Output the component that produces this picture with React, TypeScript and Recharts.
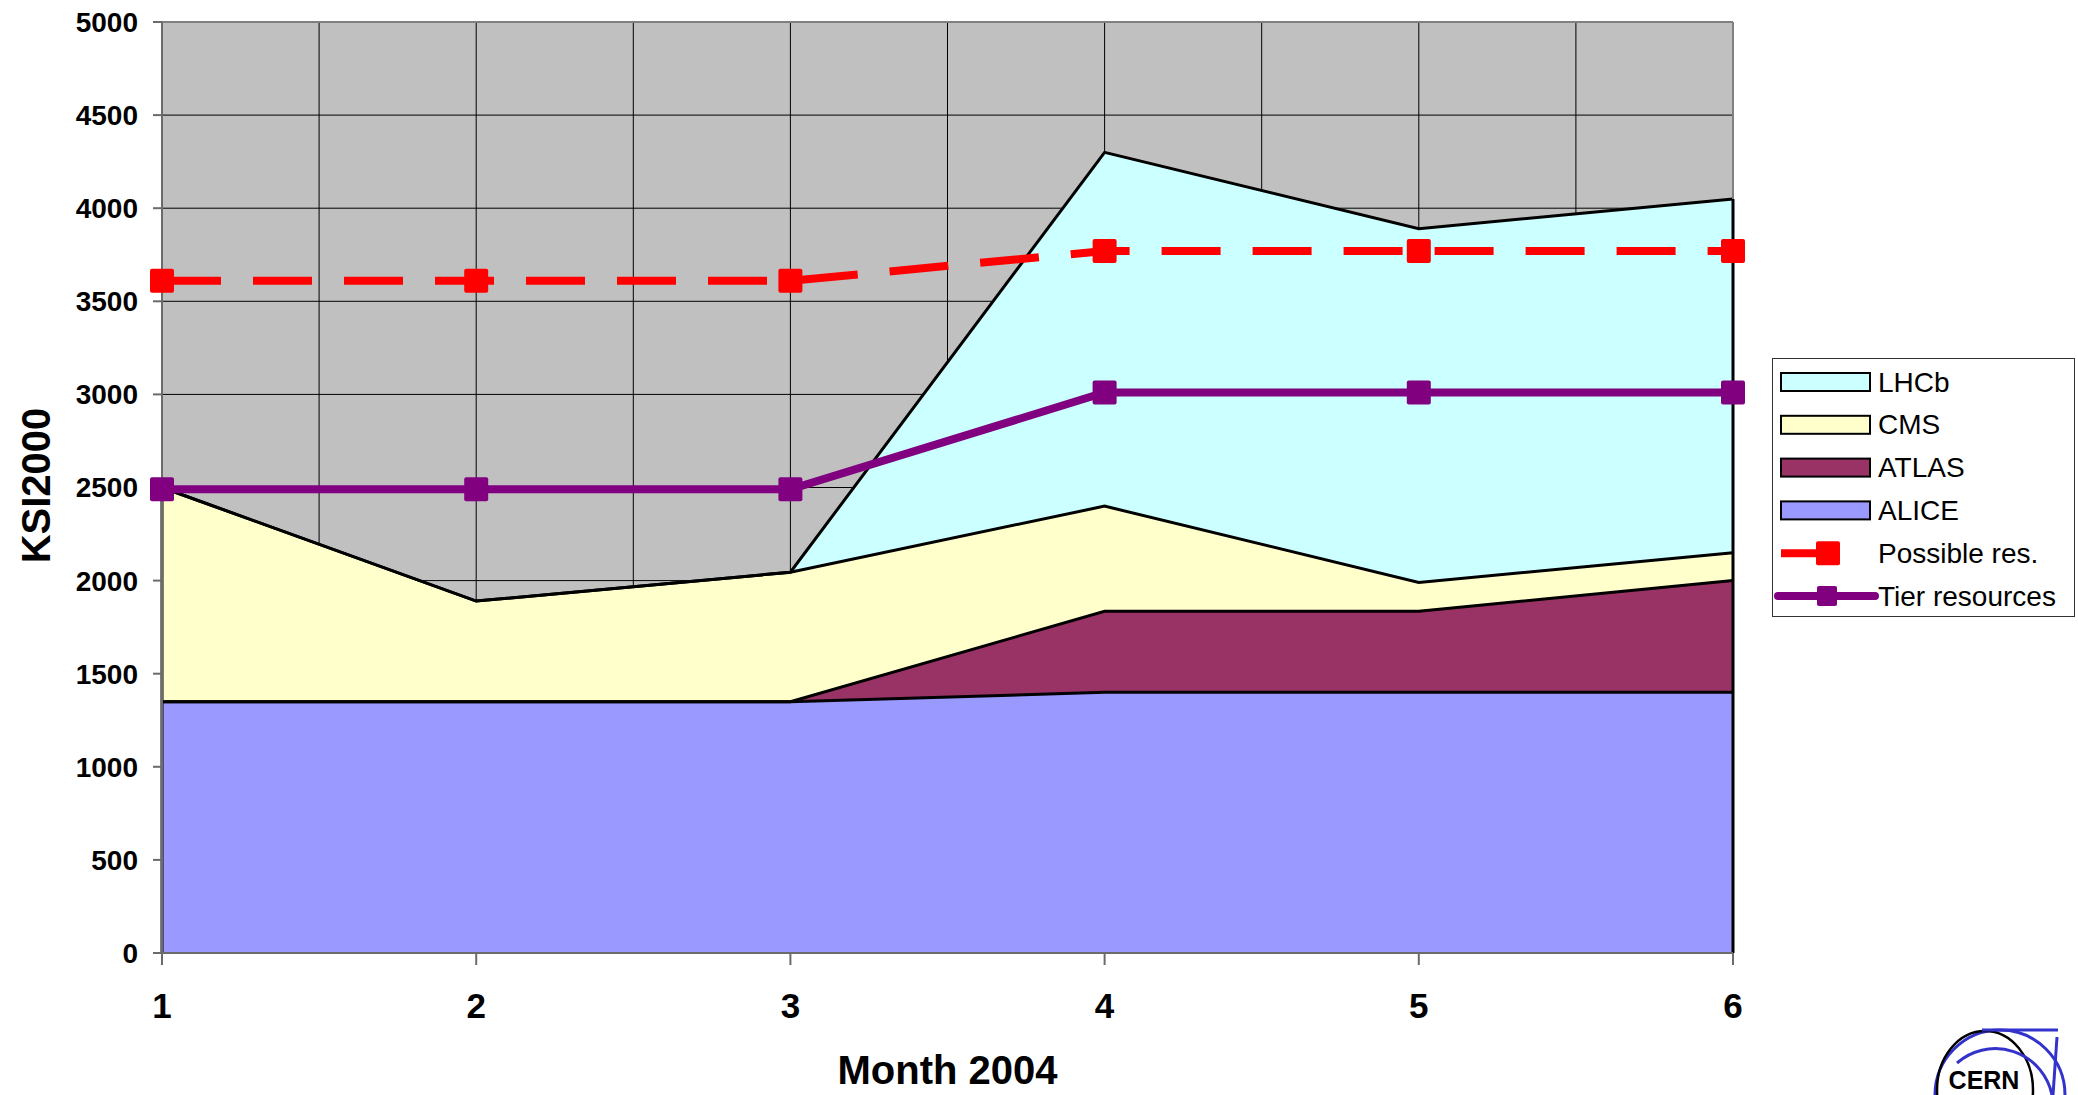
import React from "react";
import {
  ComposedChart,
  Area,
  Line,
  XAxis,
  YAxis,
  CartesianGrid,
  ReferenceLine,
  Label,
} from "recharts";

// month numbers on the x axis, plus the half-month grid positions
const months = [1, 2, 3, 4, 5, 6];
const xTicks = [1, 1.5, 2, 2.5, 3, 3.5, 4, 4.5, 5, 5.5, 6];
const yTicks = [0, 500, 1000, 1500, 2000, 2500, 3000, 3500, 4000, 4500, 5000];

// stacked experiment requests (KSI2000)
const alice = [1350, 1350, 1350, 1400, 1400, 1400];
const atlas = [0, 0, 0, 435, 435, 600];
const cms = [1150, 540, 695, 565, 155, 150];
const lhcb = [0, 0, 0, 1900, 1900, 1900];

// capacity lines
const possibleRes = [3610, 3610, 3610, 3770, 3770, 3770];
const tierResources = [2490, 2490, 2490, 3010, 3010, 3010];

const FONT = '"Liberation Sans", Arial, Helvetica, sans-serif';

const areaSeries = [
  { name: "ALICE", values: alice, color: "#9999FF" },
  { name: "ATLAS", values: atlas, color: "#993366" },
  { name: "CMS", values: cms, color: "#FFFFCC" },
  { name: "LHCb", values: lhcb, color: "#CCFFFF" },
];

const lineSeries = [
  { name: "Possible res.", values: possibleRes, color: "#FF0000", dash: "59 32" },
  { name: "Tier resources", values: tierResources, color: "#800080", dash: undefined },
];

const data = months.map((m, i) => {
  const row: Record<string, number> = { month: m };
  areaSeries.forEach((s) => (row[s.name] = s.values[i]));
  lineSeries.forEach((s) => (row[s.name] = s.values[i]));
  return row;
});

const stackTotal = (i: number) =>
  areaSeries.reduce((sum, s) => sum + s.values[i], 0);
const firstMonth = months[0];
const lastMonth = months[months.length - 1];

const squareDot = (color: string, size: number) => (props: any) => {
  const { cx, cy, index } = props;
  if (cx == null || cy == null) return <g key={`e-${color}-${index}`} />;
  return (
    <rect
      key={`${color}-${index}`}
      x={cx - size / 2}
      y={cy - size / 2}
      width={size}
      height={size}
      rx={2}
      fill={color}
    />
  );
};

const XTick = (props: any) => {
  const { x, y, payload } = props;
  if (!Number.isInteger(payload.value)) return <g />;
  return (
    <g>
      <line x1={x} x2={x} y1={y} y2={y + 12} stroke="#6b6b6b" strokeWidth={2} />
      <text
        x={x}
        y={y + 52}
        textAnchor="middle"
        dominantBaseline="central"
        fontFamily={FONT}
        fontWeight="bold"
        fontSize={35}
        fill="#000"
      >
        {payload.value}
      </text>
    </g>
  );
};

function ChartLegend() {
  const rowY = (i: number) => 24 + i * 42.8;
  const boxes = [...areaSeries].reverse();
  return (
    <svg
      width={304}
      height={260}
      style={{ position: "absolute", left: 1772, top: 358 }}
    >
      <rect x={0.5} y={0.5} width={302} height={258} fill="#fff" stroke="#333" strokeWidth={1} />
      {boxes.map((s, i) => (
        <g key={s.name}>
          <rect x={9} y={rowY(i) - 9} width={89} height={18} fill={s.color} stroke="#000" strokeWidth={2} />
          <text x={106} y={rowY(i)} dominantBaseline="central" fontFamily={FONT} fontSize={28} fill="#000">
            {s.name}
          </text>
        </g>
      ))}
      {lineSeries.map((s, j) => {
        const y = rowY(boxes.length + j);
        const first = j === 0;
        return (
          <g key={s.name}>
            <line
              x1={first ? 9 : 6}
              x2={first ? 68 : 103}
              y1={y}
              y2={y}
              stroke={s.color}
              strokeWidth={8}
              strokeLinecap={first ? "butt" : "round"}
            />
            <rect
              x={(first ? 56 : 55) - (first ? 12 : 10)}
              y={y - (first ? 12 : 10)}
              width={first ? 24 : 20}
              height={first ? 24 : 20}
              rx={2}
              fill={s.color}
            />
            <text x={106} y={y} dominantBaseline="central" fontFamily={FONT} fontSize={28} fill="#000">
              {s.name}
            </text>
          </g>
        );
      })}
    </svg>
  );
}

function CernLogo() {
  return (
    <svg width={160} height={90} style={{ position: "absolute", left: 1918, top: 1005 }}>
      <g transform="translate(-1918,-1005)">
        <circle cx={2000} cy={1095} r={65} fill="none" stroke="#3333CC" strokeWidth={3} />
        <ellipse cx={1985} cy={1090} rx={48} ry={59} fill="none" stroke="#000" strokeWidth={2.5} />
        <path d="M1957 1063 A58 58 0 0 1 2052 1095" fill="none" stroke="#3333CC" strokeWidth={3} />
        <line x1={1982} x2={2058} y1={1030} y2={1030} stroke="#3333CC" strokeWidth={3} />
        <line x1={2057} x2={2053} y1={1037} y2={1095} stroke="#3333CC" strokeWidth={3} />
        <text x={1984} y={1089} textAnchor="middle" fontFamily={FONT} fontWeight="bold" fontSize={25} fill="#000">
          CERN
        </text>
      </g>
    </svg>
  );
}

export default function App() {
  return (
    <div style={{ position: "absolute", left: 0, top: 0, width: 2078, height: 1095, background: "#fff" }}>
      <ComposedChart
        width={2078}
        height={1095}
        data={data}
        margin={{ top: 22, right: 345, bottom: 0, left: 0 }}
      >
        <CartesianGrid
          stroke="#000"
          strokeWidth={1}
          fill="#C0C0C0"
          fillOpacity={1}
        />
        <XAxis
          type="number"
          dataKey="month"
          domain={[firstMonth, lastMonth]}
          ticks={xTicks}
          interval={0}
          height={142}
          tickSize={0}
          tickMargin={0}
          tick={<XTick />}
          axisLine={{ stroke: "#6b6b6b", strokeWidth: 2 }}
        >
          <Label
            content={(p: any) => {
              const vb = p.viewBox;
              return (
                <text
                  x={vb.x + vb.width / 2}
                  y={vb.y + 117}
                  textAnchor="middle"
                  dominantBaseline="central"
                  fontFamily={FONT}
                  fontWeight="bold"
                  fontSize={40}
                  fill="#000"
                >
                  Month 2004
                </text>
              );
            }}
          />
        </XAxis>
        <YAxis
          type="number"
          domain={[0, 5000]}
          ticks={yTicks}
          interval={0}
          width={162}
          tickSize={9}
          tickMargin={15}
          tick={{ fill: "#000", fontSize: 28, fontWeight: "bold", fontFamily: FONT }}
          axisLine={{ stroke: "#6b6b6b", strokeWidth: 2 }}
          tickLine={{ stroke: "#6b6b6b", strokeWidth: 2 }}
        >
          <Label
            content={(p: any) => {
              const vb = p.viewBox;
              const cy = vb.y + vb.height / 2 - 2;
              return (
                <text
                  x={36}
                  y={cy}
                  transform={`rotate(-90, 36, ${cy})`}
                  textAnchor="middle"
                  dominantBaseline="central"
                  fontFamily={FONT}
                  fontWeight="bold"
                  fontSize={40}
                  fill="#000"
                >
                  KSI2000
                </text>
              );
            }}
          />
        </YAxis>

        {/* filled stack */}
        {areaSeries.map((s) => (
          <Area
            key={s.name}
            type="linear"
            dataKey={s.name}
            stackId="req"
            stroke="none"
            fill={s.color}
            fillOpacity={1}
            dot={false}
            activeDot={false}
            isAnimationActive={false}
            legendType="none"
          />
        ))}
        {/* same stack again, outlines only, so later fills don't hide the edges */}
        {areaSeries.map((s) => (
          <Area
            key={`${s.name}-edge`}
            type="linear"
            dataKey={s.name}
            stackId="edge"
            stroke="#000"
            strokeWidth={3}
            fill="none"
            fillOpacity={0}
            dot={false}
            activeDot={false}
            isAnimationActive={false}
            legendType="none"
          />
        ))}

        <ReferenceLine y={5000} stroke="#808080" strokeWidth={2} />
        <ReferenceLine x={lastMonth} stroke="#808080" strokeWidth={2} />
        <ReferenceLine
          segment={[
            { x: lastMonth, y: 0 },
            { x: lastMonth, y: stackTotal(months.length - 1) },
          ]}
          stroke="#000"
          strokeWidth={3}
        />
        <ReferenceLine
          segment={[
            { x: firstMonth, y: 0 },
            { x: firstMonth, y: stackTotal(0) },
          ]}
          stroke="#000"
          strokeWidth={3}
        />

        {lineSeries.map((s) => (
          <Line
            key={s.name}
            type="linear"
            dataKey={s.name}
            stroke={s.color}
            strokeWidth={8}
            strokeDasharray={s.dash}
            dot={squareDot(s.color, 24)}
            activeDot={false}
            isAnimationActive={false}
          />
        ))}
      </ComposedChart>
      <ChartLegend />
      <CernLogo />
    </div>
  );
}
